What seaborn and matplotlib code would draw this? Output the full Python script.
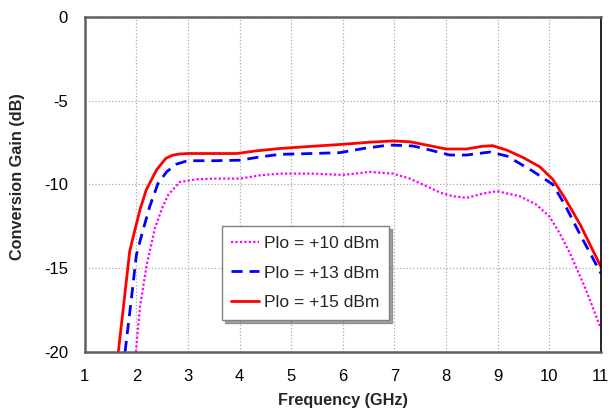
import matplotlib
matplotlib.use("Agg")
import matplotlib.pyplot as plt
from matplotlib.ticker import MultipleLocator
import pandas as pd
import seaborn as sns

# Datos (GHz, dB)
freq_10 = [1.99, 2.07, 2.2, 2.36, 2.5, 2.62, 2.84, 3.16, 3.5, 4.0, 4.4, 4.78, 5.4, 6.0, 6.52,
           6.97, 7.3, 7.55, 7.9, 8.13, 8.4, 8.7, 8.98, 9.43, 9.75, 10.0, 10.2, 10.4, 10.7, 11.0]
gain_10 = [-20, -17.3, -14.8, -12.6, -11.4, -10.6, -9.85, -9.69, -9.65, -9.65, -9.45, -9.35, -9.35, -9.43, -9.25,
           -9.35, -9.65, -10.0, -10.5, -10.7, -10.8, -10.55, -10.4, -10.7, -11.2, -11.9, -12.9, -14.1, -16.2, -18.6]

freq_13 = [1.78, 1.9, 2.0, 2.13, 2.26, 2.42, 2.59, 2.78, 2.95, 3.1, 3.5, 4.0, 4.4, 4.78, 5.4, 5.94, 6.4,
           6.9, 7.36, 7.7, 8.07, 8.4, 8.85, 9.18, 9.68, 10.07, 10.3, 10.6, 11.0]
gain_13 = [-20, -16.9, -14.2, -12.7, -11.3, -9.93, -9.23, -8.78, -8.62, -8.58, -8.58, -8.55, -8.35, -8.2, -8.15, -8.1, -7.85,
           -7.64, -7.7, -7.95, -8.24, -8.24, -8.06, -8.3, -9.2, -10.0, -11.2, -13.0, -15.3]

freq_15 = [1.65, 1.76, 1.87, 1.94, 2.07, 2.19, 2.39, 2.57, 2.7, 2.84, 3.0, 3.5, 3.95, 4.3, 4.78, 5.4, 6.0,
           6.5, 6.97, 7.3, 7.55, 8.0, 8.4, 8.7, 8.9, 9.18, 9.5, 9.82, 10.07, 10.3, 10.6, 11.0]
gain_15 = [-20, -17.0, -14.0, -13.1, -11.5, -10.33, -9.13, -8.44, -8.25, -8.18, -8.15, -8.15, -8.15, -8.0, -7.85, -7.72, -7.6,
           -7.48, -7.4, -7.45, -7.6, -7.88, -7.88, -7.72, -7.68, -7.95, -8.4, -8.95, -9.7, -10.8, -12.4, -14.9]

etiquetas = ["Plo = +10 dBm", "Plo = +13 dBm", "Plo = +15 dBm"]

df = pd.concat([
    pd.DataFrame({"freq": freq_10, "gain": gain_10, "serie": etiquetas[0]}),
    pd.DataFrame({"freq": freq_13, "gain": gain_13, "serie": etiquetas[1]}),
    pd.DataFrame({"freq": freq_15, "gain": gain_15, "serie": etiquetas[2]}),
])

sns.set_theme(style="white")
plt.rcParams['font.family'] = ['Liberation Sans', 'DejaVu Sans']
plt.rcParams['axes.unicode_minus'] = False

fig = plt.figure(figsize=(6.1, 4.11), dpi=100)
ax = fig.add_axes([0.139, 0.1436, 0.846, 0.815])

colores = {etiquetas[0]: "#FF00FF", etiquetas[1]: "#0000FF", etiquetas[2]: "#FF0000"}
estilos = {etiquetas[0]: (0, (1, 1)), etiquetas[1]: (0, (4, 2.5)), etiquetas[2]: "-"}
grosor = {etiquetas[0]: 1.6, etiquetas[1]: 2.0, etiquetas[2]: 2.0}

for s in etiquetas:
    sub = df[df["serie"] == s]
    sns.lineplot(x="freq", y="gain", data=sub, ax=ax, color=colores[s],
                 linestyle=estilos[s], linewidth=grosor[s], label=s, sort=False)

ax.set_xlim(1, 11)
ax.set_ylim(-20, 0)
ax.xaxis.set_major_locator(MultipleLocator(1))
ax.xaxis.set_minor_locator(MultipleLocator(0.5))
ax.yaxis.set_major_locator(MultipleLocator(5))
ax.yaxis.set_minor_locator(MultipleLocator(1))
ax.tick_params(which="major", length=0, labelsize=12, colors="black", pad=12)
ax.tick_params(which="minor", direction="in", length=7, width=1.2, color="#404040")
ax.grid(True, which="major", linestyle=":", color="#aaaaaa", linewidth=0.9)

for lado in ["left", "bottom", "top"]:
    ax.spines[lado].set_color("#606060")
    ax.spines[lado].set_linewidth(1.8)
ax.spines["right"].set_color("black")
ax.spines["right"].set_linewidth(1.2)

ax.set_xlabel("Frequency (GHz)", fontsize=11.7, fontweight="bold", labelpad=7)
ax.set_ylabel("Conversion Gain (dB)", fontsize=11.7, fontweight="bold")
ax.yaxis.set_label_coords(-0.116, 0.524)

leg = ax.legend(loc="lower left", bbox_to_anchor=(0.2655, 0.0955), borderaxespad=0,
                fontsize=12.5, frameon=True, fancybox=False, shadow=True,
                labelspacing=0.85, handlelength=1.6, handletextpad=0.3, borderpad=0.55)
leg.get_frame().set_edgecolor("#808080")
leg.get_frame().set_linewidth(1.0)

fig.savefig("out.png", dpi=100)
